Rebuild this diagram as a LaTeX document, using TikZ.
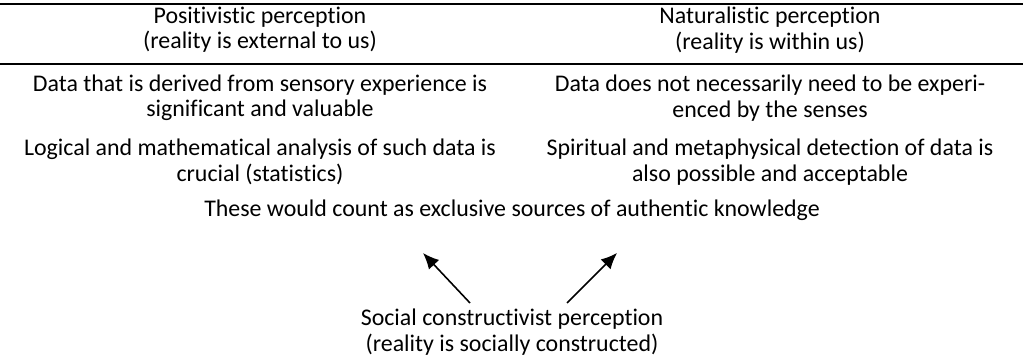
\documentclass[tikz,border=0pt]{standalone}
\usepackage{fontspec}
\setmainfont[Ligatures=NoCommon]{Carlito}
\usetikzlibrary{arrows.meta}
\newcommand{\colLeft}{260}
\newcommand{\colRight}{770}
\newcommand{\ruleWidth}{1.6pt}

\begin{document}
\begin{tikzpicture}[x=0.02cm, y=-0.02cm,
  every node/.style={align=center, inner sep=0pt, font=\fontsize{13.6}{14.4}\selectfont},
  arr/.style={-{Latex[length=3.2mm,width=2.8mm]}, line width=0.9pt}]
\useasboundingbox (0,0) rectangle (1023,364);
% rules round the heading row
\draw[line width=\ruleWidth] (0,4) -- (1023,4);
\draw[line width=\ruleWidth] (0,64) -- (1023,64);
% heading row
\node (hdrPos) at (\colLeft,30) {Positivistic perception\\(reality is external to us)};
\node (hdrNat) at (\colRight,30) {Naturalistic perception\\(reality is within us)};
% body rows
\node (posA) at (\colLeft,98) {Data that is derived from sensory experience is\\significant and valuable};
\node (natA) at (\colRight,98) {Data does not necessarily need to be experi-\\enced by the senses};
\node (posB) at (\colLeft,162) {Logical and mathematical analysis of such data is\\crucial (statistics)};
\node (natB) at (\colRight,162) {Spiritual and metaphysical detection of data is\\also possible and acceptable};
\node (sources) at (512,210) {These would count as exclusive sources of authentic knowledge};
% third view and its arrows
\node (social) at (512,332) {Social constructivist perception\\(reality is socially constructed)};
\coordinate (tailL) at (470,303);
\coordinate (tipL) at (423,253);
\coordinate (tailR) at (567,303);
\coordinate (tipR) at (617,253);
\draw[arr] (tailL) -- (tipL);
\draw[arr] (tailR) -- (tipR);
\end{tikzpicture}
\end{document}
